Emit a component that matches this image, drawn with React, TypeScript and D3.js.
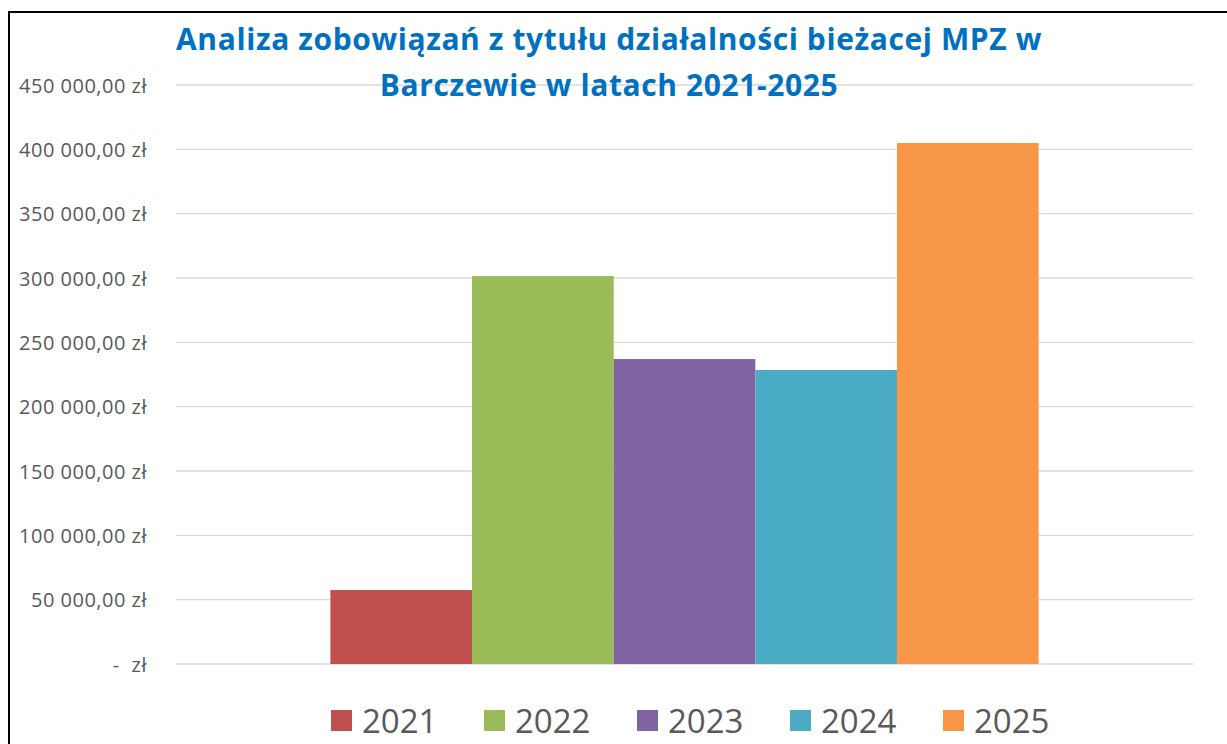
import React from "react";
import * as d3 from "d3";

const years = ["2021", "2022", "2023", "2024", "2025"];
const values = [57500, 301500, 237000, 228500, 404900];
const colors = ["#C0504D", "#9BBB59", "#8064A2", "#4BACC6", "#F79646"];
const yTicks = [0, 50000, 100000, 150000, 200000, 250000, 300000, 350000, 400000, 450000];
const titleLines = [
  "Analiza zobowiązań z tytułu działalności bieżacej MPZ w",
  "Barczewie w latach 2021-2025",
];

const W = 1227;
const H = 744;
const plot = { left: 176, right: 1193, top: 85, bottom: 664 };

function fmt(v: number): string {
  const s = d3.format(",.2f")(v);
  return s.replace(/,/g, " ").replace(".", ",") + " zł";
}

export default function App() {
  const y = d3.scaleLinear().domain([0, 450000]).range([plot.bottom, plot.top]);
  const outer = d3
    .scaleBand<string>()
    .domain(["all"])
    .range([plot.left, plot.right])
    .paddingInner(0)
    .paddingOuter(0.218);
  const x0 = outer("all") as number;
  const inner = d3
    .scaleBand<string>()
    .domain(years)
    .range([x0, x0 + outer.bandwidth()]);

  const font = "'Open Sans', sans-serif";
  const legendX = d3.scaleBand<string>().domain(years).range([331, 331 + 153 * 5]);

  return (
    <svg
      width={W}
      height={H}
      style={{ position: "absolute", left: 0, top: 0, display: "block", background: "#fff" }}
    >
      <rect x={0} y={0} width={W} height={H} fill="#fff" />
      <rect x={9} y={12} width={W + 20} height={H + 20} fill="#fff" stroke="#000" strokeWidth={2} />
      {yTicks.map((t) => (
        <line
          key={t}
          x1={plot.left}
          x2={plot.right}
          y1={y(t)}
          y2={y(t)}
          stroke="#d9d9d9"
          strokeWidth={1.3}
        />
      ))}
      {yTicks.map((t) =>
        t === 0 ? (
          <g key={t} fontFamily={font} fontSize={20} fill="#595959">
            <text x={116} y={y(t)} dominantBaseline="central" textAnchor="middle">
              -
            </text>
            <text x={147} y={y(t)} dominantBaseline="central" textAnchor="end" letterSpacing={0.5}>
              zł
            </text>
          </g>
        ) : (
          <text
            key={t}
            x={147}
            y={y(t)}
            dominantBaseline="central"
            textAnchor="end"
            fontFamily={font}
            fontSize={20}
            letterSpacing={0.5}
            fill="#595959"
          >
            {fmt(t)}
          </text>
        )
      )}
      {years.map((yr, i) => (
        <rect
          key={yr}
          x={inner(yr)}
          y={y(values[i])}
          width={inner.bandwidth()}
          height={y(0) - y(values[i])}
          fill={colors[i]}
        />
      ))}
      {titleLines.map((line, i) => (
        <text
          key={i}
          x={609}
          y={50 + i * 45.5}
          textAnchor="middle"
          fontFamily={font}
          fontWeight={700}
          fontSize={30}
          letterSpacing={0.6}
          fill="#0070C0"
        >
          {line}
        </text>
      ))}
      {years.map((yr, i) => (
        <g key={yr} transform={`translate(${legendX(yr)},0)`}>
          <rect x={0} y={710} width={21} height={21} fill={colors[i]} />
          <text x={31} y={733} fontFamily={font} fontSize={33} fill="#595959">
            {yr}
          </text>
        </g>
      ))}
    </svg>
  );
}
